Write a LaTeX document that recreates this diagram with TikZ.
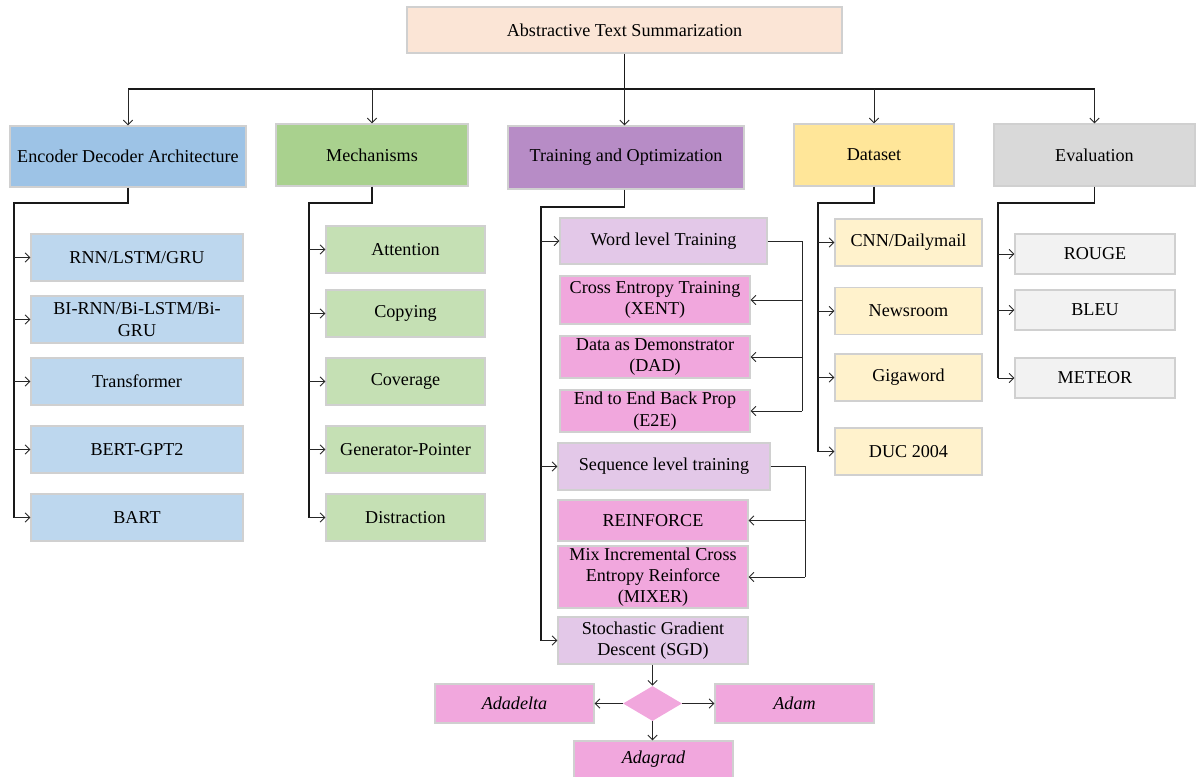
\documentclass[tikz,border=0pt]{standalone}
\usepackage{fontspec}
\setmainfont{Liberation Serif}
\usetikzlibrary{arrows.meta,shapes.geometric}
\definecolor{boxedge}{HTML}{D0D0D0}
\definecolor{cRoot}{HTML}{FBE5D6}
\definecolor{cEnc}{HTML}{9DC3E6}
\definecolor{cMech}{HTML}{A9D18E}
\definecolor{cTrain}{HTML}{B78CC6}
\definecolor{cData}{HTML}{FFE699}
\definecolor{cEval}{HTML}{D9D9D9}
\definecolor{cEncL}{HTML}{BDD7EE}
\definecolor{cMechL}{HTML}{C5E0B4}
\definecolor{cLilac}{HTML}{E3C8E8}
\definecolor{cPink}{HTML}{F1A7DD}
\definecolor{cDataL}{HTML}{FFF2CC}
\definecolor{cEvalL}{HTML}{F2F2F2}
\begin{document}
\begin{tikzpicture}[x=0.75pt,y=-0.75pt,
  box/.style={draw=boxedge, line width=0.9pt, align=center, inner sep=1pt,
              font=\fontsize{13.6}{16}\selectfont},
  sz/.style 2 args={minimum width=#1*0.75pt, minimum height=#2*0.75pt},
  trunk/.style={line width=1.3pt, draw=black!90},
  link/.style={line width=0.7pt, draw=black!85},
  arr/.style={link, -{Straight Barb[length=3.5pt,width=7pt]}},
]
\useasboundingbox (0,0) rectangle (1196,777);

% root and first level
\node[box, fill=cRoot, sz={435}{46}] (root) at (624.5,30) {Abstractive Text Summarization};
\node[box, fill=cEnc, sz={236}{61}] (enc) at (128,156.5) {Encoder Decoder Architecture};
\node[box, fill=cMech, sz={192}{62}] (mech) at (372,155) {Mechanisms};
\node[box, fill=cTrain, sz={236}{63}] (train) at (626,157.5) {Training and Optimization};
\node[box, fill=cData, sz={160}{62}] (data) at (874,155) {Dataset};
\node[box, fill=cEval, sz={201}{62}] (eval) at (1094.5,155) {Evaluation};

\coordinate (bus) at (0,89);
\draw[trunk] (root.south) -- (bus -| root.south);
\draw[trunk] (bus -| enc.north) -- (bus -| eval.north);
\draw[arr] (bus -| enc.north) -- (enc.north);
\draw[arr] (bus -| mech.north) -- (mech.north);
\draw[arr] (bus -| root.south) -- (root.south |- train.north);
\draw[arr] (bus -| data.north) -- (data.north);
\draw[arr] (bus -| eval.north) -- (eval.north);

% encoder decoder architectures
\node[box, fill=cEncL, sz={212}{47}] (rnn) at (137,257.5) {RNN/LSTM/GRU};
\node[box, fill=cEncL, sz={212}{47}] (birnn) at (137,319.5) {BI-RNN/Bi-LSTM/Bi-\\GRU};
\node[box, fill=cEncL, sz={212}{47}] (trans) at (137,381.5) {Transformer};
\node[box, fill=cEncL, sz={212}{47}] (bert) at (137,449.5) {BERT-GPT2};
\node[box, fill=cEncL, sz={212}{47}] (bart) at (137,517.5) {BART};
\coordinate (encsp) at (14,203);
\draw[trunk] (enc.south) |- (encsp) -- (encsp |- bart.west);
\foreach \n in {rnn,birnn,trans,bert,bart}
  \draw[arr] (encsp |- \n.west) -- (\n.west);

% mechanisms
\node[box, fill=cMechL, sz={159}{47}] (att) at (405.5,249.5) {Attention};
\node[box, fill=cMechL, sz={159}{47}] (copy) at (405.5,313.5) {Copying};
\node[box, fill=cMechL, sz={159}{47}] (cov) at (405.5,381.5) {Coverage};
\node[box, fill=cMechL, sz={159}{47}] (gen) at (405.5,449.5) {Generator-Pointer};
\node[box, fill=cMechL, sz={159}{47}] (dis) at (405.5,517.5) {Distraction};
\coordinate (mechsp) at (309,203);
\draw[trunk] (mech.south) |- (mechsp) -- (mechsp |- dis.west);
\foreach \n in {att,copy,cov,gen,dis}
  \draw[arr] (mechsp |- \n.west) -- (\n.west);

% training and optimization
\node[box, fill=cLilac, sz={207}{46}] (word) at (663.5,241) {Word level Training};
\node[box, fill=cPink, sz={190}{48}] (xent) at (655,300) {Cross Entropy Training\\(XENT)};
\node[box, fill=cPink, sz={190}{42}] (dad) at (655,357) {Data as Demonstrator\\(DAD)};
\node[box, fill=cPink, sz={190}{42}] (e2e) at (655,411) {End to End Back Prop\\(E2E)};
\node[box, fill=cLilac, sz={212}{47}] (seq) at (664,466.5) {Sequence level training};
\node[box, fill=cPink, sz={190}{41}] (reinf) at (653,520.5) {REINFORCE};
\node[box, fill=cPink, sz={190}{62}] (mixer) at (653,577) {Mix Incremental Cross\\Entropy Reinforce\\(MIXER)};
\node[box, fill=cLilac, sz={190}{47}] (sgd) at (653,640.5) {Stochastic Gradient\\Descent (SGD)};
\coordinate (trainsp) at (541,207);
\draw[trunk] (train.south -| root.south) |- (trainsp) -- (trainsp |- sgd.west);
\foreach \n in {word,seq,sgd}
  \draw[arr] (trainsp |- \n.west) -- (\n.west);

\coordinate (wbr) at (802,241);
\draw[link] (word.east) -- (wbr) -- (wbr |- e2e.east);
\foreach \n in {xent,dad,e2e}
  \draw[arr] (wbr |- \n.east) -- (\n.east);

\coordinate (sbr) at (805,466.5);
\draw[link] (seq.east) -- (sbr) -- (sbr |- mixer.east);
\foreach \n in {reinf,mixer}
  \draw[arr] (sbr |- \n.east) -- (\n.east);

% optimizers
\node[diamond, fill=cPink, inner sep=0pt, aspect=1.7, sz={59}{35}] (dia) at (652.5,703.5) {};
\node[box, fill=cPink, sz={159}{39}, font=\fontsize{13.6}{16}\selectfont\itshape] (adadelta) at (514.5,703.5) {Adadelta};
\node[box, fill=cPink, sz={159}{39}, font=\fontsize{13.6}{16}\selectfont\itshape] (adam) at (794.5,703.5) {Adam};
\node[box, fill=cPink, sz={159}{37}, font=\fontsize{13.6}{16}\selectfont\itshape] (adagrad) at (653.5,759.5) {Adagrad};
\draw[arr] (sgd.south -| dia.north) -- (dia.north);
\draw[arr] (dia.west) -- (adadelta.east);
\draw[arr] (dia.east) -- (adam.west);
\draw[arr] (dia.south) -- (dia.south |- adagrad.north);

% datasets
\node[box, fill=cDataL, sz={147}{47}] (cnn) at (908.5,242.5) {CNN/Dailymail};
\node[box, fill=cDataL, sz={147}{47}] (news) at (908.5,311) {Newsroom};
\node[box, fill=cDataL, sz={147}{47}] (giga) at (908.5,377.5) {Gigaword};
\node[box, fill=cDataL, sz={147}{47}] (duc) at (908.5,451.5) {DUC 2004};
\coordinate (datasp) at (818,203);
\draw[trunk] (data.south) |- (datasp) -- (datasp |- duc.west);
\foreach \n in {cnn,news,giga,duc}
  \draw[arr] (datasp |- \n.west) -- (\n.west);

% evaluation metrics
\node[box, fill=cEvalL, sz={160}{40}] (rouge) at (1095,254) {ROUGE};
\node[box, fill=cEvalL, sz={160}{40}] (bleu) at (1095,310) {BLEU};
\node[box, fill=cEvalL, sz={160}{40}] (meteor) at (1095,378) {METEOR};
\coordinate (evalsp) at (998,203);
\draw[trunk] (eval.south) |- (evalsp) -- (evalsp |- meteor.west);
\foreach \n in {rouge,bleu,meteor}
  \draw[arr] (evalsp |- \n.west) -- (\n.west);
\end{tikzpicture}
\end{document}
